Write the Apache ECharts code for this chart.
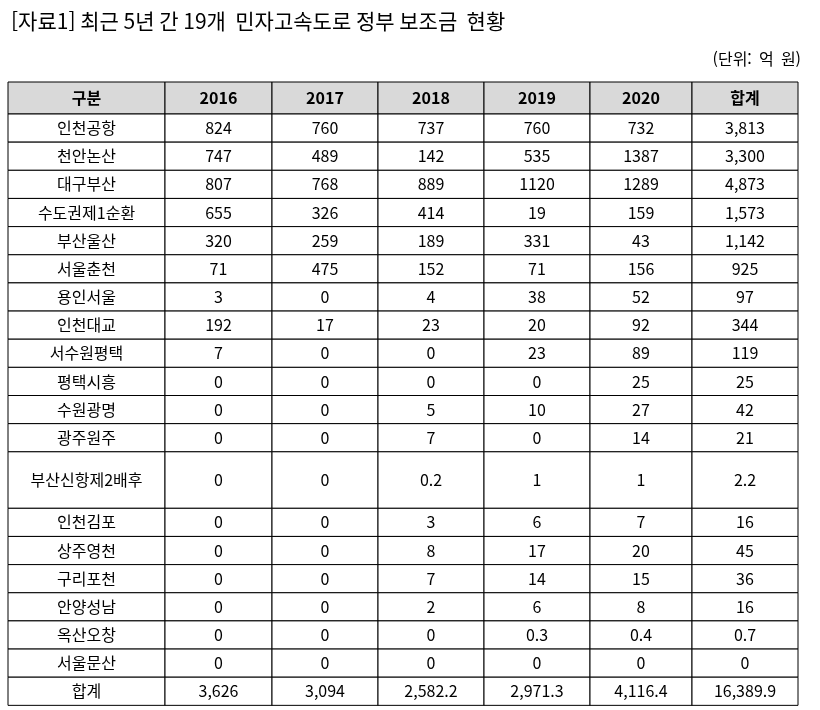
<!DOCTYPE html>
<html lang="ko">
<head>
<meta charset="UTF-8">
<title>민자고속도로 정부 보조금 현황</title>
<style>
  html, body { margin: 0; padding: 0; background: #fff; }
  #main { width: 820px; height: 710px; }
</style>
</head>
<body>
<div id="main"></div>
<script src="https://cdn.jsdelivr.net/npm/echarts@6/dist/echarts.min.js"></script>
<script>
var headers = ['구분', '2016', '2017', '2018', '2019', '2020', '합계'];
var roads = ['인천공항', '천안논산', '대구부산', '수도권제1순환', '부산울산', '서울춘천', '용인서울',
  '인천대교', '서수원평택', '평택시흥', '수원광명', '광주원주', '부산신항제2배후', '인천김포',
  '상주영천', '구리포천', '안양성남', '옥산오창', '서울문산', '합계'];
var y2016 = ['824', '747', '807', '655', '320', '71', '3', '192', '7', '0', '0', '0', '0', '0', '0', '0', '0', '0', '0', '3,626'];
var y2017 = ['760', '489', '768', '326', '259', '475', '0', '17', '0', '0', '0', '0', '0', '0', '0', '0', '0', '0', '0', '3,094'];
var y2018 = ['737', '142', '889', '414', '189', '152', '4', '23', '0', '0', '5', '7', '0.2', '3', '8', '7', '2', '0', '0', '2,582.2'];
var y2019 = ['760', '535', '1120', '19', '331', '71', '38', '20', '23', '0', '10', '0', '1', '6', '17', '14', '6', '0.3', '0', '2,971.3'];
var y2020 = ['732', '1387', '1289', '159', '43', '156', '52', '92', '89', '25', '27', '14', '1', '7', '20', '15', '8', '0.4', '0', '4,116.4'];
var totals = ['3,813', '3,300', '4,873', '1,573', '1,142', '925', '97', '344', '119', '25', '42', '21', '2.2', '16', '45', '36', '16', '0.7', '0', '16,389.9'];

// layout (pixels)
var colEdges = [8, 165, 272, 378, 484, 590, 692, 798];
var rowEdges = [82, 114];
roads.forEach(function (r) {
  var h = r === '부산신항제2배후' ? 56.5 : 28.15;
  rowEdges.push(rowEdges[rowEdges.length - 1] + h);
});

var cells = [];
headers.forEach(function (h, c) { cells.push([0, c, h]); });
var cols = [roads, y2016, y2017, y2018, y2019, y2020, totals];
roads.forEach(function (r, i) {
  cols.forEach(function (arr, c) { cells.push([i + 1, c, arr[i]]); });
});

var chart = echarts.init(document.getElementById('main'));
chart.setOption({
  animation: false,
  title: [{
    text: '[자료1] 최근 5년 간 19개  민자고속도로 정부 보조금  현황',
    left: 6, top: 6,
    textStyle: { fontFamily: 'Noto Sans CJK KR', fontSize: 21, fontWeight: 'normal', color: '#000' }
  }, {
    text: '(단위:  억  원)',
    right: 14, top: 46,
    textStyle: { fontFamily: 'Noto Sans CJK KR', fontSize: 16, fontWeight: 'normal', color: '#000' }
  }],
  series: [{
    type: 'custom',
    coordinateSystem: 'none',
    data: cells,
    renderItem: function (params, api) {
      var r = api.value(0), c = api.value(1);
      var d = cells[params.dataIndex];
      var x = colEdges[c], w = colEdges[c + 1] - x;
      var y = rowEdges[r], h = rowEdges[r + 1] - y;
      return {
        type: 'group',
        children: [{
          type: 'rect',
          shape: { x: x, y: y, width: w, height: h },
          style: { fill: r === 0 ? '#d9d9d9' : '#fff', stroke: '#000', lineWidth: 1 }
        }, {
          type: 'text',
          style: {
            x: x + w / 2, y: y + h / 2, text: d[2],
            align: 'center', verticalAlign: 'middle',
            fontFamily: 'Noto Sans CJK KR', fontSize: 16,
            fontWeight: r === 0 ? 'bold' : 'normal', fill: '#000'
          }
        }]
      };
    }
  }]
});
</script>
</body>
</html>
